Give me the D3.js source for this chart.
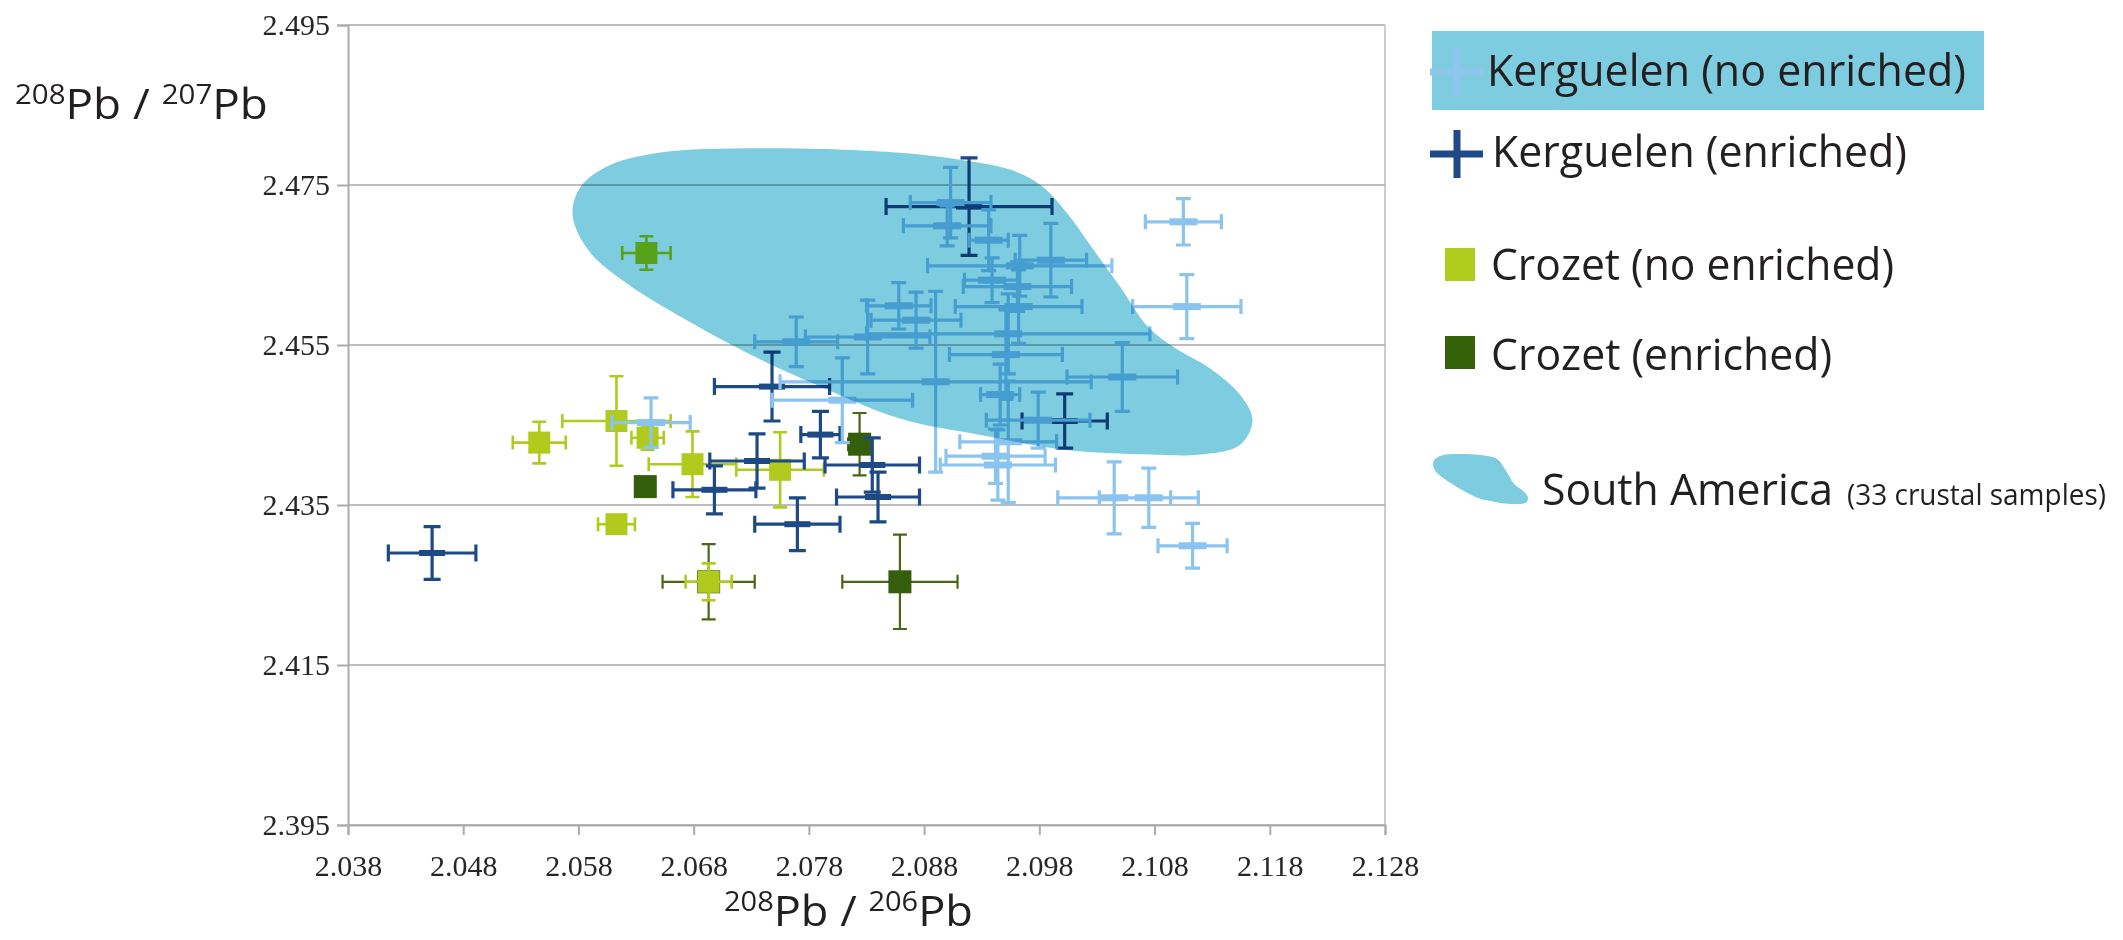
<!DOCTYPE html>
<html><head><meta charset="utf-8">
<script src="https://cdn.jsdelivr.net/npm/d3@7"></script>
<style>body{margin:0;background:#fff}</style>
</head><body>
<svg id="c" width="2123" height="940"></svg>
<script>
// ---------- DATA ----------
const xTicks = [2.038, 2.048, 2.058, 2.068, 2.078, 2.088, 2.098, 2.108, 2.118, 2.128];
const yTicks = [2.395, 2.415, 2.435, 2.455, 2.475, 2.495];

// Kerguelen (no enriched)
const kneX  = [2.0903, 2.0900, 2.1105, 2.1108, 2.0963, 2.0990, 2.0961, 2.0962, 2.0953, 2.0951, 2.1052, 2.0873, 2.0858, 2.0769, 2.0831, 2.0890, 2.0809, 2.0979, 2.0953, 2.0942, 2.0944, 2.1045, 2.1075, 2.1113, 2.0643, 2.0936, 2.0939, 2.0946];
const kneY  = [2.4728, 2.4699, 2.4704, 2.4598, 2.4649, 2.4656, 2.4623, 2.4598, 2.4564, 2.4538, 2.4510, 2.4581, 2.4599, 2.4554, 2.4560, 2.4504, 2.4481, 2.4456, 2.4429, 2.4411, 2.4400, 2.4359, 2.4359, 2.4299, 2.4453, 2.4681, 2.4631, 2.4488];
const kneEx = [0.0035, 0.0038, 0.0033, 0.0047, 0.0080, 0.0031, 0.0047, 0.0055, 0.0123, 0.0049, 0.0048, 0.0039, 0.0028, 0.0036, 0.0054, 0.0135, 0.0061, 0.0045, 0.0042, 0.0043, 0.0050, 0.0049, 0.0043, 0.0030, 0.0034, 0.0017, 0.0024, 0.0017];
const kneEy = [0.0044, 0.0025, 0.0029, 0.0040, 0.0038, 0.0046, 0.0031, 0.0046, 0.0050, 0.0056, 0.0043, 0.0035, 0.0029, 0.0031, 0.0046, 0.0113, 0.0053, 0.0035, 0.0076, 0.0034, 0.0044, 0.0045, 0.0037, 0.0028, 0.0031, 0.0038, 0.0028, 0.0038];

// Kerguelen (enriched)
const keX  = [2.0453, 2.0748, 2.0790, 2.0735, 2.0698, 2.0770, 2.0840, 2.0835, 2.0919, 2.1002];
const keY  = [2.4290, 2.4498, 2.4438, 2.4405, 2.4369, 2.4326, 2.4360, 2.4400, 2.4723, 2.4455];
const keEx = [0.0038, 0.0050, 0.0017, 0.0041, 0.0036, 0.0037, 0.0036, 0.0041, 0.0072, 0.0037];
const keEy = [0.0033, 0.0043, 0.0029, 0.0034, 0.0030, 0.0033, 0.0031, 0.0034, 0.0061, 0.0034];

// Crozet (no enriched)
const cneX  = [2.0546, 2.0613, 2.0640, 2.0679, 2.0755, 2.0693, 2.0639, 2.0613];
const cneY  = [2.4428, 2.4455, 2.4434, 2.4401, 2.4394, 2.4254, 2.4665, 2.4326];
const cneEx = [0.0023, 0.0047, 0.0014, 0.0038, 0.0038, 0.0020, 0.0021, 0.0016];
const cneEy = [0.0026, 0.0056, 0.0015, 0.0041, 0.0047, 0.0023, 0.0021, 0.0000];

// Crozet (enriched)
const ceX  = [2.0638, 2.0824, 2.0693, 2.0859];
const ceY  = [2.4373, 2.4426, 2.4254, 2.4254];
const ceEx = [0.0000, 0.0010, 0.0040, 0.0050];
const ceEy = [0.0000, 0.0039, 0.0047, 0.0059];

// South America crustal field outline
const saX = [2.0575, 2.0581, 2.0603, 2.0648, 2.0738, 2.0853, 2.0914, 2.0955, 2.0981, 2.1004, 2.1027, 2.1050, 2.1074, 2.1098, 2.1128, 2.1154, 2.1165, 2.1154, 2.1120, 2.1076, 2.1001, 2.0935, 2.0859, 2.0784, 2.0738, 2.0679, 2.0622, 2.0590];
const saY = [2.4711, 2.4746, 2.4772, 2.4790, 2.4796, 2.4791, 2.4781, 2.4769, 2.4750, 2.4715, 2.4669, 2.4623, 2.4573, 2.4546, 2.4521, 2.4488, 2.4456, 2.4425, 2.4413, 2.4413, 2.4419, 2.4436, 2.4458, 2.4502, 2.4532, 2.4577, 2.4627, 2.4666];

const legendLabels = ["Kerguelen (no enriched)", "Kerguelen (enriched)", "Crozet (no enriched)", "Crozet (enriched)", "South America", "(33 crustal samples)"];

// ---------- CHART ----------
const svg = d3.select("#c");
svg.append("rect").attr("width", 2123).attr("height", 940).attr("fill", "#fff");

const L = 348, R = 1385, T = 25, B = 825;
const x = d3.scaleLinear().domain([2.038, 2.128]).range([L, R]);
const y = d3.scaleLinear().domain([2.395, 2.495]).range([B, T]);
const gridCol = "#BDBDBD";

// gridlines
svg.append("g").selectAll("line").data(yTicks).join("line")
  .attr("x1", L).attr("x2", R).attr("y1", d => y(d)).attr("y2", d => y(d))
  .attr("stroke", gridCol).attr("stroke-width", 2);
svg.append("line").attr("x1", R).attr("x2", R).attr("y1", T).attr("y2", B)
  .attr("stroke", gridCol).attr("stroke-width", 1.5);

const fmt = d3.format(".3f");
const gy = svg.append("g").attr("transform", `translate(${L},0)`)
  .call(d3.axisLeft(y).tickValues(yTicks).tickSize(11).tickPadding(7).tickFormat(fmt));
const gx = svg.append("g").attr("transform", `translate(0,${B})`)
  .call(d3.axisBottom(x).tickValues(xTicks).tickSize(10).tickPadding(20).tickFormat(fmt));
[gx, gy].forEach(g => {
  g.select(".domain").attr("stroke", "#ABABAB").attr("stroke-width", 2);
  g.selectAll(".tick line").attr("stroke", "#ABABAB").attr("stroke-width", 2);
  g.selectAll(".tick text").attr("font-family", "'Liberation Serif', serif")
    .attr("font-size", 30).attr("fill", "#262626");
});

// error-bar crosses
function drawErr(g, xs, ys, exs, eys, color, w, cap) {
  let p = "";
  xs.forEach((v, i) => {
    const cx = x(v), cy = y(ys[i]);
    if (exs[i] > 0) {
      const x0 = x(v - exs[i]), x1 = x(v + exs[i]);
      p += `M${x0},${cy}H${x1}M${x0},${cy - cap / 2}V${cy + cap / 2}M${x1},${cy - cap / 2}V${cy + cap / 2}`;
    }
    if (eys[i] > 0) {
      const y0 = y(ys[i] - eys[i]), y1 = y(ys[i] + eys[i]);
      p += `M${cx},${y0}V${y1}M${cx - cap / 2},${y0}H${cx + cap / 2}M${cx - cap / 2},${y1}H${cx + cap / 2}`;
    }
  });
  g.append("path").attr("d", p).attr("fill", "none").attr("stroke", color).attr("stroke-width", w);
}
function drawSquares(g, xs, ys, color, s) {
  g.selectAll(null).data(xs).join("rect")
    .attr("x", (d) => x(d) - s / 2).attr("y", (d, i) => y(ys[i]) - s / 2)
    .attr("width", s).attr("height", s).attr("fill", color);
}
function drawDash(g, xs, ys, color, w, h) {
  g.selectAll(null).data(xs).join("rect")
    .attr("x", (d) => x(d) - w / 2).attr("y", (d, i) => y(ys[i]) - h / 2)
    .attr("width", w).attr("height", h).attr("fill", color);
}

const cKNE = "#8BC4EE", cKE = "#1D4A85", cCNE = "#B0CB1D", cCE = "#355E0C";
const plot = svg.append("g");
drawErr(plot, ceX, ceY, ceEx, ceEy, "#4A6616", 2.2, 14);
drawSquares(plot, ceX, ceY, cCE, 23);
drawErr(plot, cneX, cneY, cneEx, cneEy, cCNE, 2.6, 14);
drawSquares(plot, cneX, cneY, cCNE, 22);
drawErr(plot, keX, keY, keEx, keEy, cKE, 3.2, 17);
drawDash(plot, keX, keY, cKE, 26, 6);
drawErr(plot, kneX, kneY, kneEx, kneEy, cKNE, 3.2, 15);
drawDash(plot, kneX, kneY, cKNE, 28, 7);

// South America field (multiplied over the points)
const blobPts = saX.map((v, i) => [v, saY[i]]);
const blobLine = d3.line().x(d => x(d[0])).y(d => y(d[1])).curve(d3.curveCatmullRomClosed.alpha(0.5));
svg.append("path").attr("d", blobLine(blobPts)).attr("fill", "#7ECCDF")
  .style("mix-blend-mode", "multiply");

// ---------- AXIS TITLES ----------
function pbTitle(x0, base, a, b, targetW) {
  const t = svg.append("text").attr("x", x0).attr("y", base)
    .attr("font-family", "'Open Sans', sans-serif").attr("fill", "#231F20");
  t.append("tspan").attr("font-size", 27).attr("dy", -15).text(a);
  t.append("tspan").attr("font-size", 42).attr("dy", 15).text("Pb / ");
  t.append("tspan").attr("font-size", 27).attr("dy", -15).text(b);
  t.append("tspan").attr("font-size", 42).attr("dy", 15).text("Pb");
  const w = t.node().getComputedTextLength();
  t.attr("transform", `translate(${x0},0) scale(${targetW / w},1) translate(${-x0},0)`);
}
pbTitle(15, 119, "208", "207", 253);
pbTitle(724, 926, "208", "206", 249);

// ---------- LEGEND ----------
const lg = svg.append("g").attr("font-family", "'Open Sans', sans-serif").attr("fill", "#231F20");
lg.append("rect").attr("x", 1432).attr("y", 31).attr("width", 552).attr("height", 79).attr("fill", "#7ECCDF");
function legCross(cx, cy, color) {
  lg.append("path").attr("d", `M${cx - 27},${cy}H${cx + 26}M${cx},${cy - 24}V${cy + 24}`)
    .attr("stroke", color).attr("stroke-width", 7).attr("fill", "none");
}
legCross(1457, 72, "#8EC6EE");
legCross(1457, 154, "#1F4A87");
lg.append("rect").attr("x", 1445).attr("y", 248).attr("width", 30).attr("height", 33).attr("fill", "#B0CC1C");
lg.append("rect").attr("x", 1445).attr("y", 336).attr("width", 30).attr("height", 33).attr("fill", "#356108");
function legText(tx, ty, str, size, w) {
  lg.append("text").attr("x", tx).attr("y", ty).attr("font-size", size)
    .attr("textLength", w).attr("lengthAdjust", "spacingAndGlyphs").text(str);
}
legText(1487, 86, legendLabels[0], 44, 479);
legText(1492, 167, legendLabels[1], 44, 415);
legText(1491, 280, legendLabels[2], 44, 403);
legText(1491, 370, legendLabels[3], 44, 341);
legText(1542, 505, legendLabels[4], 44, 291);
legText(1847, 505, legendLabels[5], 29, 259);

// legend field icon: same outline, shrunk
const lx = d3.scaleLinear().domain([d3.min(saX), d3.max(saX)]).range([1433, 1528]);
const ly = d3.scaleLinear().domain([d3.max(saY), d3.min(saY)]).range([454, 504]);
const iconLine = d3.line().x(d => lx(d[0])).y(d => ly(d[1])).curve(d3.curveCatmullRomClosed.alpha(0.5));
lg.append("path").attr("d", iconLine(blobPts)).attr("fill", "#7ECCDF");
</script>
</body></html>
